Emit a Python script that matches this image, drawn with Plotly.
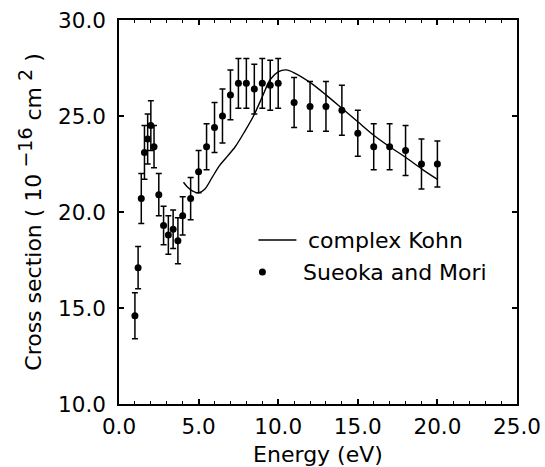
import plotly.graph_objects as go

# Experimental data (Sueoka and Mori)
energy_exp = [1.0, 1.2, 1.4, 1.6, 1.8, 2.0, 2.2, 2.5, 2.8, 3.1, 3.4, 3.7, 4.0, 4.5,
              5.0, 5.5, 6.0, 6.5, 7.0, 7.5, 8.0, 8.5, 9.0, 9.5, 10.0,
              11.0, 12.0, 13.0, 14.0, 15.0, 16.0, 17.0, 18.0, 19.0, 20.0]
sigma_exp = [14.6, 17.1, 20.7, 23.1, 23.8, 24.5, 23.4, 20.9, 19.3, 18.8, 19.1, 18.5, 19.8, 20.7,
             22.1, 23.4, 24.4, 25.0, 26.1, 26.7, 26.7, 26.4, 26.7, 26.6, 26.7,
             25.7, 25.5, 25.5, 25.3, 24.1, 23.4, 23.4, 23.2, 22.5, 22.5]
err_exp = [1.2, 1.1, 1.3, 1.4, 1.3, 1.3, 1.1, 1.1, 1.0, 1.0, 1.0, 1.2, 1.0, 1.1,
           1.1, 1.2, 1.3, 1.4, 1.3, 1.3, 1.3, 1.3, 1.3, 1.3, 1.3,
           1.3, 1.3, 1.3, 1.3, 1.2, 1.2, 1.2, 1.3, 1.3, 1.2]

# Theory (complex Kohn)
energy_th = [4.05, 4.3, 4.6, 5.0, 5.4, 5.85, 6.3, 6.7, 7.3, 7.9, 8.45, 9.0, 9.5,
             10.0, 10.5, 11.0, 12.0, 13.0, 14.0, 15.0, 16.0, 17.0, 18.0, 19.0, 20.0]
sigma_th = [21.55, 21.3, 21.1, 21.0, 21.2, 21.8, 22.4, 22.8, 23.4, 24.2, 25.0, 26.0, 26.9,
            27.3, 27.4, 27.25, 26.75, 26.1, 25.4, 24.7, 24.0, 23.4, 22.85, 22.25, 21.7]

x_ticks = [0, 5, 10, 15, 20, 25]
y_ticks = [10, 15, 20, 25, 30]

FONT = "DejaVu Sans"
FS_TICK = 21.5
FS_TEXT = 22

fig = go.Figure()
fig.add_trace(go.Scatter(
    x=energy_th, y=sigma_th, mode="lines", name="complex Kohn",
    line=dict(color="black", width=1.4, shape="spline", smoothing=0.8),
    showlegend=False))
fig.add_trace(go.Scatter(
    x=energy_exp, y=sigma_exp, mode="markers", name="Sueoka and Mori",
    marker=dict(color="black", size=7),
    error_y=dict(type="data", array=err_exp, visible=True, color="black",
                 thickness=1.5, width=3),
    showlegend=False))

# Legend drawn manually
L0 = 118.5
W = 398.2
B = 404.0
H = 384.0
def px(xp):
    return (xp - L0) / W
def py(yp):
    return (B - yp) / H

fig.add_shape(type="line", xref="paper", yref="paper",
              x0=px(258), x1=px(296), y0=py(240), y1=py(240),
              line=dict(color="black", width=1.4))
fig.add_shape(type="circle", xref="paper", yref="paper",
              xsizemode="pixel", ysizemode="pixel",
              xanchor=px(262), yanchor=py(272), x0=-3.5, x1=3.5, y0=-3.5, y1=3.5,
              fillcolor="black", line=dict(color="black", width=0))
fig.add_annotation(xref="paper", yref="paper", x=px(306), y=py(240),
                   text="complex Kohn", showarrow=False, xanchor="left", yanchor="middle",
                   font=dict(family=FONT, size=FS_TEXT, color="black"))
fig.add_annotation(xref="paper", yref="paper", x=px(301), y=py(272),
                   text="Sueoka and Mori", showarrow=False, xanchor="left", yanchor="middle",
                   font=dict(family=FONT, size=FS_TEXT, color="black"))

axis_common = dict(showline=True, linecolor="black", linewidth=1.5, mirror="allticks",
                   ticks="inside", ticklen=5, tickwidth=1.5, tickcolor="black",
                   showgrid=False, zeroline=False, tickformat=".1f", automargin=False,
                   tickfont=dict(family=FONT, size=FS_TICK, color="black"))

ytitle = ("Cross section ( 10<sup><span style='font-size:19px'> −16</span></sup>"
          " cm<sup><span style='font-size:19px'> 2</span></sup> )")

fig.update_layout(
    width=545, height=467,
    margin=dict(l=118.5, r=28.3, t=20, b=63),
    paper_bgcolor="white", plot_bgcolor="white",
    xaxis=dict(range=[0, 25], tickvals=x_ticks, ticklabelstandoff=2,
               minor=dict(ticks="inside", ticklen=3, tickwidth=1, tickcolor="black", dtick=1),
               title=dict(text="Energy (eV)", font=dict(family=FONT, size=FS_TEXT, color="black"),
                          standoff=10),
               **axis_common),
    yaxis=dict(range=[10, 30], tickvals=y_ticks, ticklabelstandoff=7,
               title=dict(text=ytitle,
                          font=dict(family=FONT, size=FS_TEXT, color="black"), standoff=10),
               **axis_common),
)

fig.write_html("out.html")
